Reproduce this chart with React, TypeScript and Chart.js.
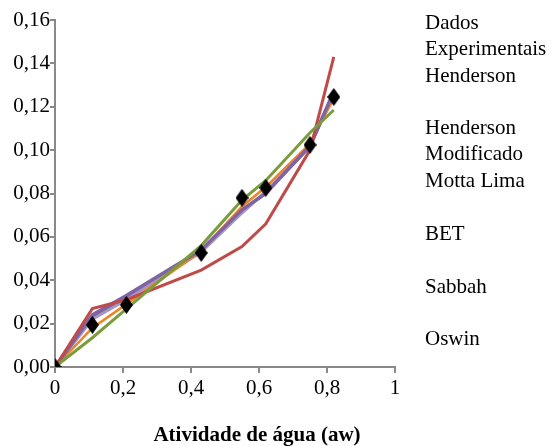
import React, { useEffect, useRef } from "react";
import { Chart, registerables } from "chart.js";

Chart.register(...registerables);

const aw = [0, 0.11, 0.21, 0.43, 0.55, 0.62, 0.75, 0.82];
const dadosExperimentais = [0, 0.0194, 0.0286, 0.0526, 0.078, 0.0826, 0.1024, 0.1245];
const henderson = [0, 0.027, 0.031, 0.0447, 0.0555, 0.066, 0.1, 0.143];
const hendersonModificado = [0, 0.018, 0.029, 0.0535, 0.074, 0.083, 0.103, 0.124];
const mottaLima = [0, 0.022, 0.031, 0.053, 0.071, 0.081, 0.102, 0.126];
const bet = [0, 0.024, 0.033, 0.054, 0.0725, 0.08, 0.102, 0.127];
const sabbah = [0, 0.023, 0.032, 0.0535, 0.072, 0.0805, 0.1015, 0.1265];
const oswin = [0, 0.0135, 0.0268, 0.056, 0.077, 0.086, 0.108, 0.1185];

const seriesLabels = [
  "Dados Experimentais",
  "Henderson",
  "Henderson Modificado",
  "Motta Lima",
  "BET",
  "Sabbah",
  "Oswin",
];
const xTitle = "Atividade de água (aw)";

const FONT = "'Times New Roman', 'Liberation Serif', serif";

function pts(ys: number[]) {
  return aw.map((x, i) => ({ x, y: ys[i] }));
}

function makeDiamond() {
  const c = document.createElement("canvas");
  const w = 13, h = 18;
  c.width = w;
  c.height = h;
  const ctx = c.getContext("2d")!;
  ctx.fillStyle = "#000";
  ctx.beginPath();
  ctx.moveTo(w / 2, 0);
  ctx.lineTo(w, h / 2);
  ctx.lineTo(w / 2, h);
  ctx.lineTo(0, h / 2);
  ctx.closePath();
  ctx.fill();
  return c;
}

const textPlugin = {
  id: "textPlugin",
  afterDraw(chart: any) {
    const ctx = chart.ctx;
    ctx.save();
    ctx.fillStyle = "#000";
    ctx.textAlign = "left";
    ctx.textBaseline = "alphabetic";
    ctx.font = `21px ${FONT}`;
    const x0 = 425;
    const maxW = 553 - x0 - 1;
    const step = 52.7;
    const lh = 26;
    seriesLabels.forEach((label, i) => {
      const words = label.split(" ");
      const lines: string[] = [];
      let cur = "";
      words.forEach((w) => {
        const t = cur ? cur + " " + w : w;
        if (ctx.measureText(t).width > maxW && cur) {
          lines.push(cur);
          cur = w;
        } else cur = t;
      });
      if (cur) lines.push(cur);
      lines.forEach((ln, j) => ctx.fillText(ln, x0, 29 + step * i + lh * j));
    });
    ctx.font = `bold 21px ${FONT}`;
    ctx.textAlign = "center";
    ctx.fillText(xTitle, 257, 441);
    ctx.restore();
  },
};

export default function App() {
  const ref = useRef<HTMLCanvasElement>(null);
  useEffect(() => {
    const diamond = makeDiamond();
    const line = (label: string, ys: number[], color: string, width: number, order: number) => ({
      label,
      data: pts(ys),
      showLine: true,
      borderColor: color,
      backgroundColor: color,
      borderWidth: width,
      pointRadius: 0,
      tension: 0,
      order,
    });
    const chart = new Chart(ref.current!, {
      type: "scatter",
      data: {
        datasets: [
          {
            label: seriesLabels[0],
            data: pts(dadosExperimentais),
            showLine: false,
            pointStyle: diamond as any,
            pointRadius: 7,
            backgroundColor: "#000",
            borderColor: "#000",
            order: 0,
          },
          line(seriesLabels[1], henderson, "#BE4B48", 3, 2),
          line(seriesLabels[2], hendersonModificado, "#F08323", 2.5, 4),
          line(seriesLabels[3], mottaLima, "#A497C4", 3, 5),
          line(seriesLabels[4], bet, "#7F63A2", 3.5, 3),
          line(seriesLabels[5], sabbah, "#8064A2", 3, 6),
          line(seriesLabels[6], oswin, "#7C9C3C", 3, 1),
        ] as any,
      },
      options: {
        responsive: false,
        animation: false,
        layout: { padding: { left: 0, top: 20, right: 158, bottom: 0 } },
        plugins: { legend: { display: false }, tooltip: { enabled: false } },
        scales: {
          x: {
            type: "linear",
            min: 0,
            max: 1,
            ticks: {
              stepSize: 0.2,
              color: "#000",
              font: { family: FONT, size: 21 },
              padding: 3,
              maxRotation: 0,
              callback: (v: any) => {
                const n = Math.round(Number(v) * 10) / 10;
                return n === 0 || n === 1 ? String(n) : n.toFixed(1).replace(".", ",");
              },
            },
            grid: { display: true, drawOnChartArea: false, drawTicks: true, tickLength: 6, color: "#898989", lineWidth: 2 },
            border: { display: true, color: "#898989", width: 2 },
            afterFit: (s: any) => {
              s.height = 79;
            },
          },
          y: {
            type: "linear",
            min: 0,
            max: 0.16,
            ticks: {
              stepSize: 0.02,
              color: "#000",
              font: { family: FONT, size: 21 },
              padding: 0,
              callback: (v: any) => Number(v).toFixed(2).replace(".", ","),
            },
            grid: { display: true, drawOnChartArea: false, drawTicks: true, tickLength: 5, color: "#898989", lineWidth: 2 },
            border: { display: true, color: "#898989", width: 2 },
            afterFit: (s: any) => {
              s.width = 55;
            },
          },
        },
      },
      plugins: [textPlugin],
    } as any);
    return () => chart.destroy();
  }, []);
  return (
    <div style={{ position: "absolute", left: 0, top: 0, width: 553, height: 446 }}>
      <canvas ref={ref} width={553} height={446} />
    </div>
  );
}
